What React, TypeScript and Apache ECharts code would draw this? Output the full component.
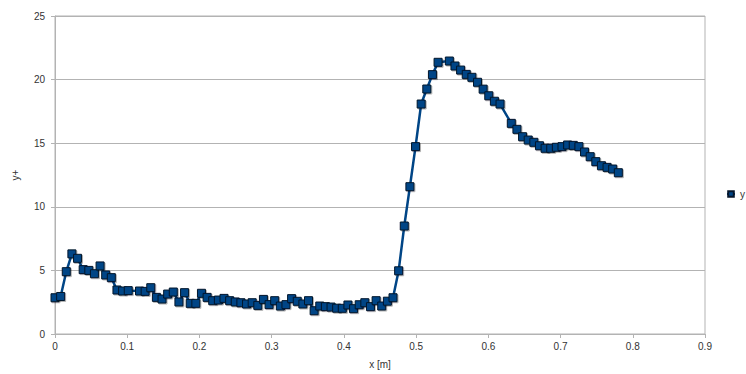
import React, { useEffect, useRef } from "react";
import * as echarts from "echarts";

const xValues = [
  0, 0.0078, 0.0156, 0.0234, 0.0312, 0.039, 0.0468, 0.0546, 0.0624, 0.0702,
  0.078, 0.0858, 0.0936, 0.1014, 0.117, 0.1248, 0.1326, 0.1404, 0.1482, 0.156,
  0.1638, 0.1716, 0.1794, 0.1872, 0.195, 0.2028, 0.2106, 0.2184, 0.2262, 0.234,
  0.2418, 0.2496, 0.2574, 0.2652, 0.273, 0.2808, 0.2886, 0.2964, 0.3042, 0.312,
  0.3198, 0.3276, 0.3354, 0.3432, 0.351, 0.3588, 0.3666, 0.3744, 0.3822, 0.39,
  0.3978, 0.4056, 0.4134, 0.4212, 0.429, 0.4368, 0.4446, 0.4524, 0.4602, 0.468,
  0.4758, 0.4836, 0.4914, 0.4992, 0.507, 0.5148, 0.5226, 0.5304, 0.546, 0.5538,
  0.5616, 0.5694, 0.5772, 0.585, 0.5928, 0.6006, 0.6084, 0.6162, 0.6318, 0.6396,
  0.6474, 0.6552, 0.663, 0.6708, 0.6786, 0.6864, 0.6942, 0.702, 0.7098, 0.7176,
  0.7254, 0.7332, 0.741, 0.7488, 0.7566, 0.7644, 0.7722, 0.78,
];

const yValues = [
  2.85, 2.95, 4.9, 6.3, 5.95, 5.06, 5.0, 4.74, 5.35, 4.64,
  4.43, 3.46, 3.38, 3.41, 3.38, 3.35, 3.64, 2.88, 2.75, 3.14,
  3.3, 2.52, 3.25, 2.41, 2.41, 3.2, 2.88, 2.62, 2.67, 2.8,
  2.62, 2.52, 2.46, 2.36, 2.46, 2.25, 2.72, 2.31, 2.62, 2.2,
  2.31, 2.78, 2.57, 2.36, 2.62, 1.83, 2.2, 2.15, 2.12, 2.03,
  2.02, 2.28, 1.99, 2.3, 2.46, 2.15, 2.62, 2.2, 2.58, 2.85,
  4.97, 8.49, 11.58, 14.73, 18.08, 19.26, 20.39, 21.36, 21.46, 21.07,
  20.75, 20.41, 20.18, 19.79, 19.25, 18.73, 18.3, 18.08, 16.56, 16.09,
  15.51, 15.25, 15.07, 14.8, 14.6, 14.6, 14.68, 14.73, 14.86, 14.83,
  14.73, 14.31, 13.94, 13.55, 13.23, 13.1, 12.97, 12.68,
];

const seriesName = "y";
const xAxisName = "x [m]";
const yAxisName = "y+";

export default function App() {
  const ref = useRef<HTMLDivElement>(null);
  useEffect(() => {
    if (!ref.current) return;
    const chart = echarts.init(ref.current, null, { renderer: "svg" });
    const data = xValues.map((x, i) => [x, yValues[i]]);
    const font = "'Liberation Sans', Arial, sans-serif";
    chart.setOption({
      animation: false,
      backgroundColor: "#ffffff",
      textStyle: { fontFamily: font },
      grid: {
        left: 55,
        right: 41,
        top: 16,
        bottom: 40,
        show: true,
        borderColor: "#b3b3b3",
        borderWidth: 1,
      },
      legend: {
        show: true,
        left: 726,
        top: 189,
        padding: 0,
        itemWidth: 8,
        itemHeight: 7,
        itemGap: 0,
        textStyle: { fontFamily: font, fontSize: 10, color: "#333" },
        data: [seriesName],
      },
      xAxis: {
        type: "value",
        min: 0,
        max: 0.9,
        interval: 0.1,
        name: xAxisName,
        nameLocation: "middle",
        nameGap: 25,
        nameTextStyle: { fontFamily: font, fontSize: 10, color: "#333" },
        axisLine: { show: true, lineStyle: { color: "#b3b3b3", width: 1 } },
        axisTick: { show: true, length: 4, lineStyle: { color: "#b3b3b3" } },
        axisLabel: { fontFamily: font, fontSize: 10, color: "#333", margin: 7 },
        splitLine: { show: false },
      },
      yAxis: {
        type: "value",
        min: 0,
        max: 25,
        interval: 5,
        name: yAxisName,
        nameLocation: "middle",
        nameGap: 35,
        nameRotate: 90,
        nameTextStyle: { fontFamily: font, fontSize: 10, color: "#333" },
        axisLine: { show: true, lineStyle: { color: "#b3b3b3", width: 1 } },
        axisTick: { show: true, length: 4, lineStyle: { color: "#b3b3b3" } },
        axisLabel: { fontFamily: font, fontSize: 10, color: "#333", margin: 10 },
        splitLine: { show: true, lineStyle: { color: "#b3b3b3", width: 1 } },
      },
      series: [
        {
          name: seriesName,
          type: "line",
          data,
          symbol: "rect",
          symbolSize: 8,
          lineStyle: { color: "#004586", width: 2.5 },
          itemStyle: {
            color: "#004586",
            borderColor: "#06162b",
            borderWidth: 1,
            shadowColor: "rgba(0,0,0,0.3)",
            shadowOffsetX: 1,
            shadowOffsetY: 1,
            shadowBlur: 1,
          },
          emphasis: { disabled: true },
        },
      ],
    });
    return () => chart.dispose();
  }, []);
  return (
    <div
      ref={ref}
      style={{ position: "fixed", left: 0, top: 0, width: 746, height: 374 }}
    />
  );
}
